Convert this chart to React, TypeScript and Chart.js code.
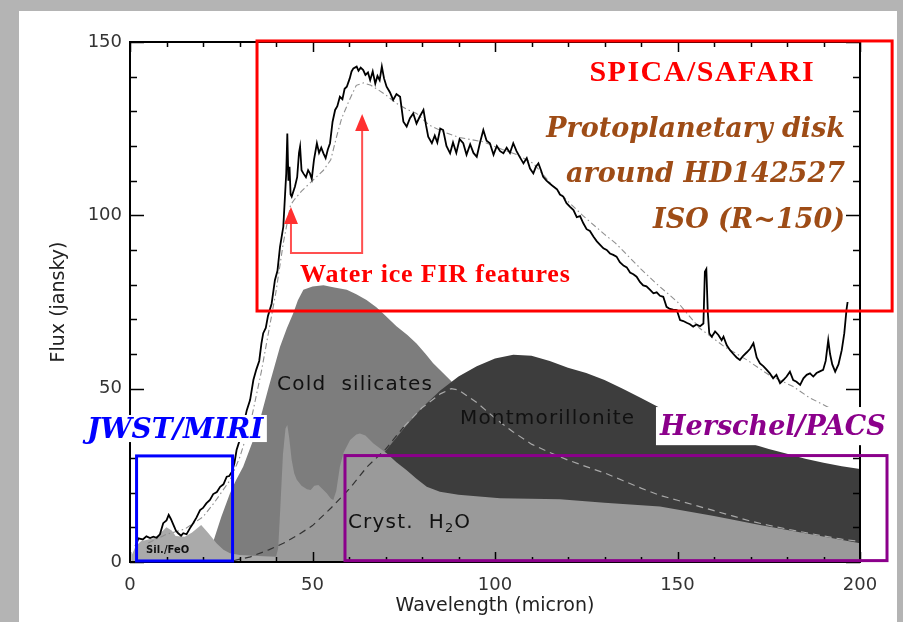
import React, { useEffect, useRef } from 'react';
import { Chart, registerables } from 'chart.js';

Chart.register(...registerables);

// ---------- data (wavelength in micron, flux in jansky) ----------
const specX = [1.5, 2.3, 3.5, 4.5, 5.5, 6.4, 7.3, 8.2, 9.1, 10.0, 10.6, 11.2, 11.9, 12.6, 13.2, 14.0, 14.6, 15.5, 16.4, 17.3, 18.2, 19.2, 20.0, 20.9, 21.9, 22.8, 23.8, 24.7, 25.6, 26.5, 27.2, 27.9, 28.6, 29.2, 30.0, 30.6, 31.3, 32.0, 32.9, 33.8, 34.6, 35.4, 36.0, 36.5, 37.2, 37.8, 38.8, 39.7, 40.4, 41.1, 42.0, 42.5, 42.8, 43.1, 43.4, 43.7, 44.0, 44.3, 44.8, 45.2, 45.8, 46.3, 46.6, 47.0, 47.5, 48.2, 48.8, 49.3, 49.8, 50.4, 51.2, 51.8, 52.4, 53.0, 53.6, 54.2, 54.8, 55.5, 56.2, 56.8, 57.5, 58.2, 58.8, 59.4, 60.2, 60.7, 61.2, 62.1, 62.6, 63.2, 63.9, 64.5, 65.2, 65.8, 66.5, 67.2, 67.8, 68.4, 69.0, 69.6, 70.3, 71.2, 72.1, 73.0, 74.0, 74.9, 75.8, 76.7, 77.6, 78.5, 79.4, 80.4, 81.1, 81.7, 82.7, 83.5, 84.2, 85.0, 85.8, 86.7, 87.7, 88.5, 89.4, 90.3, 91.3, 92.2, 93.2, 94.1, 95.0, 95.9, 96.8, 97.7, 98.6, 99.6, 100.5, 101.4, 102.3, 103.2, 104.1, 105.0, 105.9, 106.8, 107.8, 108.7, 109.6, 110.5, 111.2, 111.9, 112.6, 113.2, 114.1, 115.0, 116.0, 117.0, 117.8, 118.7, 119.6, 120.5, 121.5, 122.4, 123.3, 124.2, 125.1, 126.0, 127.0, 127.9, 128.8, 129.7, 130.6, 131.5, 132.4, 133.3, 134.2, 135.2, 136.1, 137.0, 137.9, 138.8, 139.7, 140.6, 141.5, 142.5, 143.4, 144.3, 145.2, 146.1, 147.0, 147.9, 148.8, 149.8, 150.7, 151.6, 152.5, 153.4, 154.3, 155.2, 156.2, 157.1, 157.5, 157.9, 158.3, 158.7, 159.4, 160.3, 161.2, 162.1, 162.6, 163.5, 164.4, 165.3, 166.2, 167.1, 168.0, 169.0, 169.9, 170.8, 171.7, 172.6, 173.5, 174.4, 175.3, 176.2, 177.1, 178.1, 179.0, 179.9, 180.8, 181.7, 182.6, 183.6, 184.5, 185.4, 186.3, 187.2, 188.1, 189.0, 189.9, 190.6, 191.3, 191.8, 192.4, 193.2, 194.1, 195.0, 195.7, 196.3, 196.6];
const specY = [4.5, 6.8, 6.5, 7.4, 6.9, 7.3, 7.0, 8.0, 11.2, 12.0, 13.6, 12.4, 10.7, 9.0, 8.3, 7.6, 8.3, 8.0, 9.7, 11.2, 12.8, 15.0, 15.6, 16.9, 17.9, 19.6, 20.2, 21.7, 22.4, 24.6, 24.8, 26.0, 28.5, 32.3, 35.0, 37.1, 40.5, 43.8, 46.7, 52.5, 55.5, 58.0, 63.0, 66.0, 67.5, 71.0, 74.5, 81.3, 84.0, 90.9, 96.7, 106.3, 112.0, 123.6, 110.0, 114.0, 106.0, 105.4, 107.0, 108.3, 111.0, 118.0, 119.8, 113.0, 112.1, 111.0, 113.0, 112.1, 110.5, 116.0, 120.8, 118.0, 119.5, 117.9, 116.5, 119.0, 120.8, 127.0, 130.4, 131.5, 134.2, 133.5, 136.5, 137.1, 139.5, 141.5, 142.4, 142.9, 141.7, 142.6, 141.9, 140.5, 141.2, 139.0, 141.5, 138.0, 140.2, 139.0, 142.9, 139.5, 137.1, 135.5, 133.3, 135.0, 134.2, 127.0, 125.6, 128.0, 129.4, 126.5, 128.5, 130.4, 126.0, 122.7, 120.8, 123.0, 121.0, 125.0, 124.6, 120.0, 117.9, 121.0, 118.0, 122.0, 120.8, 117.5, 120.5, 118.0, 116.9, 121.0, 124.6, 121.5, 120.8, 117.5, 120.0, 118.5, 117.9, 119.5, 118.0, 120.8, 118.5, 116.8, 115.0, 116.5, 113.5, 112.1, 114.0, 115.0, 113.0, 111.1, 110.0, 109.2, 108.3, 107.5, 106.0, 105.4, 103.5, 102.5, 101.5, 99.5, 99.8, 97.7, 96.0, 95.5, 93.8, 92.5, 91.5, 90.5, 90.0, 89.0, 88.6, 88.1, 86.5, 85.5, 85.0, 83.5, 83.0, 82.3, 80.8, 79.8, 79.5, 78.5, 77.5, 77.8, 76.8, 76.5, 73.6, 73.0, 72.8, 72.7, 69.8, 69.5, 69.0, 68.6, 67.9, 68.5, 68.0, 68.8, 83.7, 84.5, 72.0, 66.0, 65.0, 66.5, 65.5, 64.0, 65.0, 62.5, 61.1, 60.0, 59.0, 58.3, 59.5, 60.5, 61.5, 63.1, 59.0, 57.3, 56.5, 55.5, 54.4, 53.0, 54.0, 51.6, 52.5, 53.5, 54.9, 52.5, 52.0, 51.1, 53.0, 54.0, 54.4, 53.5, 54.5, 55.0, 55.4, 58.0, 64.0, 60.0, 57.0, 54.9, 57.0, 61.1, 66.0, 72.7, 75.0];

const modelX = [5, 10, 15, 20, 23, 27.4, 30, 33, 36, 40, 42, 44, 45, 47, 50, 53, 55, 56.6, 58, 60, 62, 64, 66, 68, 70, 73, 76, 78.5, 82, 86, 90, 96.8, 102, 106, 110.5, 115, 120, 124, 130, 133, 140, 144, 150, 156, 163, 169, 175, 181.7, 186, 191, 195];
const modelY = [5.5, 8, 9.5, 13, 17, 23.6, 30, 40, 55, 78, 92, 103, 104.5, 107, 110, 113, 116, 122.7, 128, 133, 137.5, 138.2, 137.5, 136.2, 134.8, 132.3, 130.5, 129.4, 126, 124, 122.5, 121.2, 119, 117.5, 115, 109.5, 104, 100, 94.5, 92, 84.5, 80.5, 75, 67.5, 62, 58.3, 54, 50.6, 47.5, 44.8, 42.5];

const dashX = [25, 28, 33, 38, 42, 46, 50, 55, 60, 65, 70, 75, 80, 85, 88, 90, 95, 100, 105, 110, 115, 120, 125, 130, 135, 140, 145, 150, 155, 160, 165, 170, 175, 180, 185, 190, 195, 200];
const dashY = [0.1, 0.3, 1.5, 3.5, 5.4, 7.8, 10.5, 15.5, 21, 27.5, 32.5, 39, 44.5, 48.5, 50, 49.6, 46, 41.5, 37.5, 34, 31.6, 29.4, 27.5, 25.7, 23.5, 21.3, 19.3, 17.8, 16.3, 14.8, 13.3, 11.8, 10.6, 9.5, 8.5, 7.5, 6.6, 5.9];

const silX = [0.5, 1.5, 3, 5, 7, 8.5, 10, 11.5, 12.5, 15, 17, 19.5, 21.5, 23.7, 25.6, 27.4, 30, 35, 40, 41];
const silY = [2, 4.5, 6, 6.5, 7, 8.5, 10, 9, 7.5, 7.3, 8.5, 10.7, 8.3, 5.4, 3.5, 2.5, 2, 1.7, 1.5, 0];

const crystX = [38, 40, 40.6, 41.1, 41.9, 42.6, 43.1, 43.6, 44.3, 45.0, 45.7, 47.0, 48.5, 49.5, 50.5, 51.6, 52.8, 53.9, 55.0, 55.7, 56.5, 57.5, 58.5, 60.3, 62, 63, 64.5, 66.7, 70.3, 73, 75.8, 78.5, 81.3, 84.9, 90, 101.4, 117.8, 130, 145.2, 160, 172.6, 185, 200];
const crystY = [0.5, 1.5, 4, 14, 31, 38.5, 39.5, 36, 29.4, 25.5, 23.7, 22, 21, 20.8, 22, 22.2, 21, 19.8, 18.3, 17.9, 20.5, 27.5, 31.5, 35.2, 36.8, 37.1, 36.5, 34.2, 31.4, 28.8, 26.5, 24, 21.7, 20.3, 19.4, 18.4, 18.1, 17.1, 16, 13.3, 10.7, 8.3, 5.4];

const montX = [40, 45, 50, 55, 60, 65, 70, 75, 80, 85, 90, 95, 100, 105, 110, 115, 120, 125, 130, 135, 140, 145, 150, 155, 160, 165, 170, 175, 180, 185, 190, 195, 200];
const montY = [0, 2, 5, 10, 17, 25, 32, 38.5, 44.5, 49.5, 53.5, 56.5, 58.7, 59.8, 59.5, 58, 56, 54.5, 52.5, 50, 47.3, 44.6, 42.2, 40.2, 38.3, 36.5, 34.2, 32.6, 31.2, 29.8, 28.6, 27.6, 26.8];

const coldX = [19, 21, 23, 25, 27.4, 29, 31, 33.5, 35.6, 38, 41.1, 43, 44.7, 46, 47.5, 50, 53, 56, 59.4, 62, 64.8, 67.5, 70, 73, 76, 78.5, 81, 83, 87.7, 92, 97, 105, 115, 130, 150, 175, 200];
const coldY = [0, 2, 6.5, 13, 19.8, 23.5, 27.5, 34.5, 41, 50.5, 62.1, 67.5, 71.7, 75.5, 78.5, 79.5, 79.8, 79.2, 78.5, 77.2, 75.6, 73.5, 71, 68, 65.5, 63, 60, 57.4, 52.5, 47.5, 42, 35, 27, 18, 10, 5, 2];

const X_TICKS = [0, 50, 100, 150, 200];
const Y_TICKS = [0, 50, 100, 150];
const X_MINOR = 10;
const Y_MINOR = 10;

// ---------- annotations (data coordinates) ----------
const BOXES = [
  { x0: 34.8, x1: 208.8, y0: 72.4, y1: 150.3, color: '#ff0000' },
  { x0: 1.8, x1: 28.1, y0: 0.3, y1: 30.6, color: '#0000ff' },
  { x0: 58.9, x1: 207.4, y0: 0.4, y1: 30.7, color: '#8b008b' },
];
const LABEL_BGS = [
  { x0: -12.3, x1: 37.5, y0: 34.6, y1: 42.4 },
  { x0: 144.1, x1: 208.2, y0: 33.7, y1: 44.7 },
];
const ARROW_PATH = [[44.1, 102.4], [44.1, 89.1], [63.6, 89.1], [63.6, 129.2]];

const SERIF_B = '"Liberation Serif", "Times New Roman", serif';
const SERIF_BI = '"DejaVu Serif", serif';
const SANS = '"DejaVu Sans", sans-serif';

const TEXTS = [
  { t: 'SPICA/SAFARI', x: 156.8, y: 138.7, align: 'center', font: `bold 30px ${SERIF_B}`, color: '#ff0000', sp: 1.5 },
  { t: 'Protoplanetary disk', x: 195.9, y: 122.7, align: 'right', font: `italic bold 27px ${SERIF_BI}`, color: '#9e4c16', sp: 0 },
  { t: 'around HD142527', x: 195.9, y: 109.7, align: 'right', font: `italic bold 27px ${SERIF_BI}`, color: '#9e4c16', sp: 0 },
  { t: 'ISO (R~150)', x: 195.9, y: 96.3, align: 'right', font: `italic bold 27px ${SERIF_BI}`, color: '#9e4c16', sp: 0 },
  { t: 'Water ice FIR features', x: 46.6, y: 80.8, align: 'left', font: `bold 26px ${SERIF_B}`, color: '#ff0000', sp: 0.8 },
  { t: 'JWST/MIRI', x: -11.8, y: 35.8, align: 'left', font: `italic bold 28px ${SERIF_BI}`, color: '#0000ff', sp: 0 },
  { t: 'Herschel/PACS', x: 145.2, y: 36.6, align: 'left', font: `italic bold 27px ${SERIF_BI}`, color: '#8b008b', sp: 0 },
  { t: 'Cold  silicates', x: 40.3, y: 49.6, align: 'left', font: `20px ${SANS}`, color: '#111', sp: 1.2 },
  { t: 'Montmorillonite', x: 90.4, y: 39.8, align: 'left', font: `20px ${SANS}`, color: '#111', sp: 1.2 },
  { t: 'Sil./FeO', x: 4.4, y: 2.6, align: 'left', font: `bold 10px ${SANS}`, color: '#111', sp: 0 },
];
const CRYST_LABEL = { x: 59.7, y: 9.8 };

const pts = (xs: number[], ys: number[]) => xs.map((x, i) => ({ x, y: ys[i] }));

const overlayPlugin = {
  id: 'overlay',
  beforeDraw(chart: any) {
    const { ctx, width, height } = chart;
    ctx.save();
    ctx.fillStyle = '#b4b4b4';
    ctx.fillRect(0, 0, width, height);
    ctx.fillStyle = '#ffffff';
    ctx.fillRect(19, 11, 878, height - 11);
    ctx.restore();
  },
  afterDraw(chart: any) {
    const { ctx } = chart;
    const sx = chart.scales.x;
    const sy = chart.scales.y;
    const px = (v: number) => sx.getPixelForValue(v);
    const py = (v: number) => sy.getPixelForValue(v);
    const { left, right, top, bottom } = chart.chartArea;
    const setSp = (s: number) => { try { (ctx as any).letterSpacing = s + 'px'; } catch (e) { /* ignore */ } };
    ctx.save();
    ctx.textBaseline = 'alphabetic';

    // axis frame with inward ticks
    ctx.strokeStyle = '#000';
    ctx.lineWidth = 2;
    ctx.strokeRect(left, top, right - left, bottom - top);
    ctx.lineWidth = 1.5;
    ctx.beginPath();
    const xMin = sx.min, xMax = sx.max, yMin = sy.min, yMax = sy.max;
    for (let v = xMin; v <= xMax + 1e-6; v += X_MINOR) {
      const len = X_TICKS.includes(v) ? 10 : 5;
      const X = Math.round(px(v)) + 0.5;
      ctx.moveTo(X, bottom); ctx.lineTo(X, bottom - len);
      ctx.moveTo(X, top); ctx.lineTo(X, top + len);
    }
    for (let v = yMin; v <= yMax + 1e-6; v += Y_MINOR) {
      const len = Y_TICKS.includes(v) ? 14 : 7;
      const Y = Math.round(py(v)) + 0.5;
      ctx.moveTo(left, Y); ctx.lineTo(left + len, Y);
      ctx.moveTo(right, Y); ctx.lineTo(right - len, Y);
    }
    ctx.stroke();

    // component labels
    for (const tx of TEXTS.slice(7)) {
      ctx.font = tx.font; ctx.fillStyle = tx.color; ctx.textAlign = tx.align as any; setSp(tx.sp);
      ctx.fillText(tx.t, px(tx.x), py(tx.y));
    }
    // Cryst. H2O with subscript
    {
      ctx.font = `20px ${SANS}`; ctx.fillStyle = '#111'; ctx.textAlign = 'left'; setSp(1.2);
      let X = px(CRYST_LABEL.x); const Y = py(CRYST_LABEL.y);
      const a = 'Cryst.  H';
      ctx.fillText(a, X, Y); X += ctx.measureText(a).width;
      ctx.font = `13px ${SANS}`; setSp(0);
      ctx.fillText('2', X, Y + 4); X += ctx.measureText('2').width + 1;
      ctx.font = `20px ${SANS}`; setSp(1.2);
      ctx.fillText('O', X, Y);
    }
    setSp(0);

    // region boxes
    ctx.lineWidth = 3;
    for (const b of BOXES) {
      ctx.strokeStyle = b.color;
      ctx.strokeRect(px(b.x0), py(b.y1), px(b.x1) - px(b.x0), py(b.y0) - py(b.y1));
    }

    // arrows
    ctx.strokeStyle = '#ff5050';
    ctx.fillStyle = '#ff3030';
    ctx.lineWidth = 2;
    ctx.beginPath();
    ARROW_PATH.forEach(([x, y], i) => {
      const X = px(x), Y = py(y) + (i === 0 || i === ARROW_PATH.length - 1 ? 12 : 0);
      if (i === 0) ctx.moveTo(X, Y); else ctx.lineTo(X, Y);
    });
    ctx.stroke();
    for (const i of [0, ARROW_PATH.length - 1]) {
      const X = px(ARROW_PATH[i][0]), Y = py(ARROW_PATH[i][1]);
      ctx.beginPath();
      ctx.moveTo(X, Y); ctx.lineTo(X - 7, Y + 17); ctx.lineTo(X + 7, Y + 17); ctx.closePath();
      ctx.fill();
    }

    // white label backgrounds
    ctx.fillStyle = '#ffffff';
    for (const b of LABEL_BGS) {
      ctx.fillRect(px(b.x0), py(b.y1), px(b.x1) - px(b.x0), py(b.y0) - py(b.y1));
    }

    // annotation texts
    for (const tx of TEXTS.slice(0, 7)) {
      ctx.font = tx.font; ctx.fillStyle = tx.color; ctx.textAlign = tx.align as any; setSp(tx.sp);
      ctx.fillText(tx.t, px(tx.x), py(tx.y));
    }
    setSp(0);
    ctx.restore();
  },
};

export default function App() {
  const ref = useRef<HTMLCanvasElement | null>(null);
  useEffect(() => {
    document.body.style.margin = '0';
    const canvas = ref.current;
    if (!canvas) return;
    const fillDs = (label: string, xs: number[], ys: number[], color: string, order: number) => ({
      label, data: pts(xs, ys), backgroundColor: color, borderColor: 'rgba(0,0,0,0)', borderWidth: 0,
      fill: 'origin', pointRadius: 0, order,
    });
    const chart = new Chart(canvas, {
      type: 'line',
      data: {
        datasets: [
          { label: 'ISO spectrum', data: pts(specX, specY), borderColor: '#000', borderWidth: 1.8, pointRadius: 0, fill: false, order: 0 } as any,
          { label: 'Model', data: pts(modelX, modelY), borderColor: '#8f8f8f', borderWidth: 1.1, borderDash: [6, 3, 1.5, 3], pointRadius: 0, fill: false, order: 1 },
          {
            label: 'Component', data: pts(dashX, dashY), borderColor: '#333', borderWidth: 1.2, borderDash: [7, 5], pointRadius: 0, fill: false, order: 2,
            segment: { borderColor: (c: any) => (c.p0.parsed.x >= 72 ? '#a8a8a8' : '#333') },
          },
          fillDs('Sil./FeO', silX, silY, '#aaaaaa', 3),
          fillDs('Cryst. H2O', crystX, crystY, '#9a9a9a', 4),
          fillDs('Montmorillonite', montX, montY, '#3d3d3d', 5),
          fillDs('Cold silicates', coldX, coldY, '#7d7d7d', 6),
        ],
      },
      options: {
        animation: false,
        responsive: false,
        devicePixelRatio: 1,
        layout: { padding: { top: 42, right: 43, bottom: 0, left: 0 } },
        plugins: { legend: { display: false }, tooltip: { enabled: false } },
        elements: { line: { tension: 0 }, point: { radius: 0 } },
        scales: {
          x: {
            type: 'linear', min: 0, max: 200,
            afterBuildTicks: (s: any) => { s.ticks = X_TICKS.map((v) => ({ value: v })); },
            afterFit: (s: any) => { s.height = 60; },
            grid: { display: false, drawTicks: false },
            border: { display: false },
            ticks: { padding: 13, color: '#333', font: { family: 'DejaVu Sans', size: 18 }, maxRotation: 0 },
            title: { display: true, text: 'Wavelength (micron)', color: '#222', font: { family: 'DejaVu Sans', size: 19 }, padding: { top: 0, bottom: 5 } },
          },
          y: {
            type: 'linear', min: 0, max: 150,
            afterBuildTicks: (s: any) => { s.ticks = Y_TICKS.map((v) => ({ value: v })); },
            afterFit: (s: any) => { s.width = 130; },
            grid: { display: false, drawTicks: false },
            border: { display: false },
            ticks: { padding: 8, color: '#333', font: { family: 'DejaVu Sans', size: 18 } },
            title: { display: true, text: 'Flux (jansky)', color: '#222', font: { family: 'DejaVu Sans', size: 19 }, padding: { top: 48, bottom: 0 } },
          },
        },
      } as any,
      plugins: [overlayPlugin],
    });
    return () => chart.destroy();
  }, []);
  return (
    <div style={{ width: 903, height: 622, position: 'relative' }}>
      <canvas ref={ref} width={903} height={622} style={{ display: 'block' }} />
    </div>
  );
}
